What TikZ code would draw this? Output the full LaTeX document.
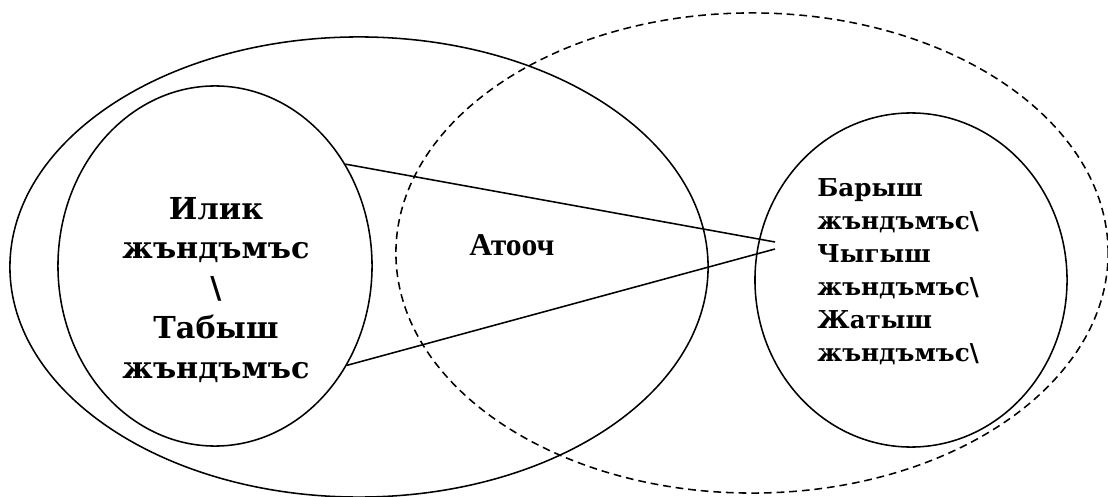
\documentclass[tikz,border=0pt]{standalone}
\usepackage{fontspec}
\setmainfont{DejaVu Serif}
\newfontfamily\timesfont{Liberation Serif}
\usetikzlibrary{shapes.geometric}
\begin{document}
\begin{tikzpicture}[x=0.025cm, y=-0.025cm, line width=1.1pt]
\useasboundingbox (0,0) rectangle (1108,497);
\node[draw, ellipse, inner sep=0pt, minimum width=17.45cm, minimum height=11.5cm] (outer) at (359,267) {};
\node[draw, dash pattern=on 5.5pt off 3.5pt, ellipse, inner sep=0pt, minimum width=17.8cm, minimum height=12cm] (case) at (752,253) {};
\node[draw, ellipse, inner sep=0pt, minimum width=7.85cm, minimum height=9cm] (inner) at (215,266) {};
\node[draw, ellipse, inner sep=0pt, minimum width=7.8cm, minimum height=8.35cm] (right) at (911,280) {};
\node[align=center, font=\bfseries\fontsize{21.5}{28.4}\selectfont] (lefttext) at (216,290) {Илик\\жъндъмъс\\\textbackslash\\Табыш\\жъндъмъс};
\node[font=\timesfont\bfseries\fontsize{22.5}{24}\selectfont] (atooch) at (512,245) {Атооч};
\node[align=left, anchor=north west, font=\bfseries\fontsize{17.5}{23.5}\selectfont] (righttext) at (812,173) {Барыш\\жъндъмъс\textbackslash\\Чыгыш\\жъндъмъс\textbackslash\\Жатыш\\жъндъмъс\textbackslash};
\coordinate (tipa) at (775,242);
\coordinate (tipb) at (775,249);
\draw (inner.38.8) -- (tipa);
\draw (inner.-37.8) -- (tipb);
\end{tikzpicture}
\end{document}
